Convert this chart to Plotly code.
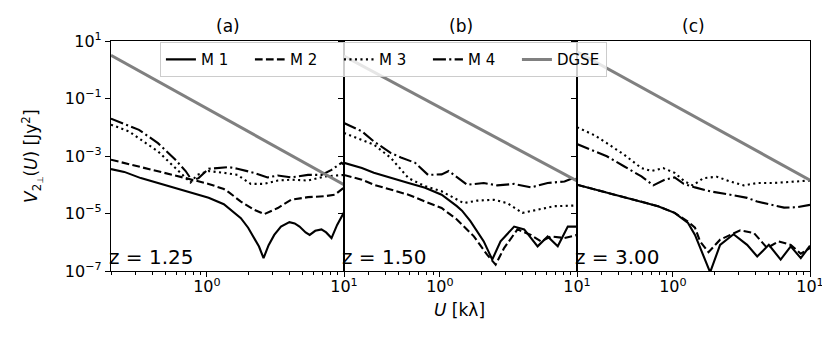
import plotly.graph_objects as go
from plotly.subplots import make_subplots

# panel (a), z = 1.25
A_M1_U = [0.2, 0.25, 0.33, 0.45, 0.59, 0.79, 1.03, 1.33, 1.58, 1.77, 2.0, 2.21, 2.4, 2.59, 2.82, 3.1, 3.47,
          4.0, 4.37, 4.74, 5.25, 5.62, 6.17, 6.85, 7.41, 8.11, 8.91, 10]
A_M1_V = [3.5e-4, 2.8e-4, 1.7e-4, 1.1e-4, 7.8e-5, 5.2e-5, 3.5e-5, 2.1e-5, 1.1e-5, 6.9e-6, 3.2e-6, 1.4e-6,
          7.1e-7, 2.8e-7, 7.9e-7, 1.8e-6, 3.5e-6, 5.0e-6, 4.5e-6, 3.5e-6, 2.2e-6, 1.8e-6, 2.5e-6, 2.8e-6,
          2.2e-6, 1.4e-6, 4.0e-6, 1.1e-5]
A_M2_U = [0.2, 0.33, 0.59, 0.78, 1.03, 1.33, 1.45, 1.77, 2.21, 2.62, 3.29, 4.12, 5.46, 7.24, 8.57, 9.3, 10]
A_M2_V = [7.4e-4, 4.1e-4, 2.2e-4, 1.5e-4, 1.07e-4, 7.1e-5, 5.4e-5, 2.6e-5, 1.35e-5, 9.5e-6, 1.55e-5, 3.0e-5,
          3.7e-5, 4.0e-5, 4.5e-5, 6.0e-5, 8.0e-5]
A_M3_U = [0.2, 0.27, 0.33, 0.44, 0.59, 0.76, 0.85, 1.03, 1.33, 1.67, 2.09, 2.62, 3.29, 4.12, 5.46, 7.24, 10]
A_M3_V = [1.23e-2, 7.2e-3, 3.7e-3, 1.45e-3, 3.8e-4, 1.2e-4, 2.2e-4, 3.0e-4, 2.6e-4, 2.2e-4, 1.07e-4, 1.07e-4,
          1.4e-4, 1.5e-4, 1.4e-4, 1.95e-4, 2.2e-4]
A_M4_U = [0.2, 0.32, 0.44, 0.59, 0.70, 0.78, 0.87, 1.03, 1.45, 1.67, 2.21, 2.77, 3.29, 4.12, 5.46, 6.85, 8.11,
          9.6, 10]
A_M4_V = [2.0e-2, 8.1e-3, 2.8e-3, 7.4e-4, 3.0e-4, 1.4e-4, 1.7e-4, 3.6e-4, 4.1e-4, 3.6e-4, 2.6e-4, 1.8e-4,
          2.1e-4, 1.8e-4, 2.2e-4, 2.2e-4, 3.3e-4, 5.8e-4, 5.0e-4]

# panel (b), z = 1.50
B_M1_U = [0.2, 0.27, 0.33, 0.44, 0.59, 0.78, 1.03, 1.33, 1.45, 1.67, 2.09, 2.41, 2.77, 3.48, 4.12, 5.16, 6.11,
          7.24, 8.57, 10]
B_M1_V = [5.8e-4, 3.8e-4, 2.6e-4, 1.7e-4, 1.15e-4, 7.8e-5, 4.5e-5, 1.8e-5, 1.26e-5, 5.4e-6, 1.07e-6, 2.5e-7,
          1.07e-6, 3.5e-6, 2.8e-6, 7.2e-7, 1.6e-6, 7.2e-7, 3.5e-6, 3.5e-6]
B_M2_U = [0.2, 0.27, 0.33, 0.44, 0.59, 0.78, 1.03, 1.33, 1.77, 2.21, 2.55, 2.94, 3.68, 4.61, 5.46, 6.47, 8.11, 10]
B_M2_V = [2.2e-4, 1.5e-4, 1.0e-4, 6.8e-5, 4.5e-5, 2.6e-5, 1.55e-5, 6.2e-6, 1.6e-6, 3.7e-7, 1.66e-7, 6.3e-7,
          2.8e-6, 1.8e-6, 1.07e-6, 1.6e-6, 1.4e-6, 1.8e-6]
B_M3_U = [0.2, 0.27, 0.33, 0.44, 0.59, 0.78, 1.03, 1.49, 1.87, 2.48, 3.1, 4.0, 5.16, 6.85, 10]
B_M3_V = [6.3e-3, 3.7e-3, 2.5e-3, 8.5e-4, 1.7e-4, 8.9e-5, 5.9e-5, 2.3e-5, 2.8e-5, 3.0e-5, 2.3e-5, 1.05e-5,
          1.35e-5, 1.8e-5, 1.9e-5]
B_M4_U = [0.2, 0.27, 0.33, 0.44, 0.52, 0.66, 0.82, 1.03, 1.16, 1.45, 1.58, 2.09, 2.62, 3.48, 4.61, 6.11, 8.11,
          9.6, 10]
B_M4_V = [1.4e-2, 7.2e-3, 3.2e-3, 1.26e-3, 8.9e-4, 5.8e-4, 2.2e-4, 2.3e-4, 3.0e-4, 1.4e-4, 1.0e-4, 1.15e-4,
          9.5e-5, 1.07e-4, 8.1e-5, 1.15e-4, 1.3e-4, 1.8e-4, 1.6e-4]

# panel (c), z = 3.00
C_M1_U = [0.2, 0.34, 0.59, 0.78, 1.03, 1.29, 1.45, 1.58, 1.72, 1.87, 2.21, 2.77, 3.48, 4.12, 5.01, 6.11, 7.24,
          8.57, 10]
C_M1_V = [1.0e-4, 5.1e-5, 2.6e-5, 1.8e-5, 1.05e-5, 4.7e-6, 1.8e-6, 6.5e-7, 2.5e-7, 9.0e-8, 8.1e-7, 1.9e-6,
          8.1e-7, 3.2e-7, 8.1e-7, 2.5e-7, 7.2e-7, 2.8e-7, 7.6e-7]
C_M2_U = [0.2, 0.34, 0.59, 0.78, 1.03, 1.29, 1.45, 1.58, 1.82, 2.21, 3.1, 3.9, 4.87, 5.9, 7.24, 8.57, 10]
C_M2_V = [1.0e-4, 5.1e-5, 2.6e-5, 1.8e-5, 1.05e-5, 5.2e-6, 3.2e-6, 1.07e-6, 4.5e-7, 1.23e-6, 2.6e-6, 2.1e-6,
          6.3e-7, 1.07e-6, 8.1e-7, 4.0e-7, 6.3e-7]
C_M3_U = [0.2, 0.27, 0.33, 0.44, 0.59, 0.70, 0.85, 1.03, 1.22, 1.40, 1.67, 2.09, 2.62, 3.29, 4.12, 5.46, 7.24, 10]
C_M3_V = [1.0e-2, 5.2e-3, 2.8e-3, 1.12e-3, 3.8e-4, 3.0e-4, 3.8e-4, 2.6e-4, 1.3e-4, 9.5e-5, 1.7e-4, 1.9e-4,
          1.3e-4, 9.5e-5, 1.15e-4, 1.15e-4, 1.26e-4, 1.4e-4]
C_M4_U = [0.2, 0.27, 0.33, 0.44, 0.59, 0.72, 0.87, 1.03, 1.2, 1.45, 1.87, 2.62, 3.48, 4.12, 5.16, 6.47, 8.11, 10]
C_M4_V = [2.6e-3, 1.5e-3, 9.8e-4, 4.4e-4, 1.95e-4, 9.5e-5, 1.5e-4, 1.8e-4, 1.07e-4, 8.1e-5, 5.9e-5, 4.5e-5,
          3.5e-5, 2.6e-5, 2.1e-5, 1.6e-5, 1.66e-5, 2.0e-5]

# DGSE foreground, straight line in log-log
DGSE_U = [0.2, 10]
DGSE_A = [3.2, 1.0e-4]
DGSE_B = [3.0, 1.35e-4]
DGSE_C = [4.2, 1.45e-4]

PANEL_TITLES = ["(a)", "(b)", "(c)"]
REDSHIFTS = ["z = 1.25", "z = 1.50", "z = 3.00"]
NAMES = ["M 1", "M 2", "M 3", "M 4", "DGSE"]

Y_TICKS = [1e1, 1e-1, 1e-3, 1e-5, 1e-7]
Y_TICK_TEXT = ["10<sup>1</sup>", "10<sup>\u22121</sup>", "10<sup>\u22123</sup>", "10<sup>\u22125</sup>",
               "10<sup>\u22127</sup>"]
X_TICKS = [1, 10]
X_TICK_TEXT = ["10<sup>0</sup>", "10<sup>1</sup>"]
X_MINOR = [0.2, 0.3, 0.4, 0.5, 0.6, 0.7, 0.8, 0.9, 2, 3, 4, 5, 6, 7, 8, 9]

paneles = [
    [(A_M1_U, A_M1_V), (A_M2_U, A_M2_V), (A_M3_U, A_M3_V), (A_M4_U, A_M4_V), (DGSE_U, DGSE_A)],
    [(B_M1_U, B_M1_V), (B_M2_U, B_M2_V), (B_M3_U, B_M3_V), (B_M4_U, B_M4_V), (DGSE_U, DGSE_B)],
    [(C_M1_U, C_M1_V), (C_M2_U, C_M2_V), (C_M3_U, C_M3_V), (C_M4_U, C_M4_V), (DGSE_U, DGSE_C)],
]

# estilos de linea parecidos a los de matplotlib
estilos = [
    dict(color="black", width=2.1, dash="solid"),
    dict(color="black", width=2.1, dash="7.7px,3.3px"),
    dict(color="black", width=2.1, dash="2.1px,3.4px"),
    dict(color="black", width=2.1, dash="13px,3.3px,2.1px,3.3px"),
    dict(color="#808080", width=3, dash="solid"),
]

fig = make_subplots(rows=1, cols=3, horizontal_spacing=0, shared_yaxes=False)

for col, curvas in enumerate(paneles, start=1):
    for k, (u, v) in enumerate(curvas):
        fig.add_trace(
            go.Scatter(
                x=u,
                y=v,
                mode="lines",
                name=NAMES[k],
                line=estilos[k],
                showlegend=(col == 1),
                legendrank=k,
            ),
            row=1,
            col=col,
        )

    fig.update_xaxes(
        type="log",
        range=[-0.699, 1],
        tickvals=X_TICKS,
        ticktext=X_TICK_TEXT,
        ticks="outside",
        ticklen=5,
        tickcolor="black",
        ticklabelstandoff=-4,
        minor=dict(tickvals=X_MINOR, ticks="outside", ticklen=3, tickcolor="black"),
        showgrid=False,
        zeroline=False,
        showline=True,
        mirror=True,
        linecolor="black",
        linewidth=1.2,
        row=1,
        col=col,
    )
    fig.update_yaxes(
        type="log",
        range=[-7, 1],
        tickvals=Y_TICKS,
        ticktext=Y_TICK_TEXT,
        showticklabels=(col == 1),
        ticks="outside",
        ticklen=5,
        tickcolor="black",
        showgrid=False,
        zeroline=False,
        showline=True,
        mirror=True,
        linecolor="black",
        linewidth=1.2,
        row=1,
        col=col,
    )

    xref = "x domain" if col == 1 else f"x{col} domain"
    yref = "y domain" if col == 1 else f"y{col} domain"

    # titulo de cada panel
    fig.add_annotation(
        x=0.5, y=1.0, xref=xref, yref=yref, xanchor="center", yanchor="bottom", yshift=3,
        text=PANEL_TITLES[col - 1], showarrow=False, font_size=17,
    )
    # etiqueta del corrimiento al rojo
    fig.add_annotation(
        x=0.0, y=0.0, xref=xref, yref=yref, xanchor="left", yanchor="bottom", xshift=-4, yshift=0,
        text=REDSHIFTS[col - 1], showarrow=False, font_size=20,
    )

fig.add_annotation(
    x=-0.113, y=0.5, xref="paper", yref="paper", xanchor="center", yanchor="middle",
    textangle=-90, showarrow=False, font_size=17,
    text="<i>V</i><sub>2<sub>\u22a5</sub></sub>(<i>U</i>) [Jy<sup>2</sup>]",
)
fig.add_annotation(
    x=0.499, y=-0.17, xref="paper", yref="paper", xanchor="center", yanchor="middle",
    showarrow=False, font_size=17, text="<i>U</i> [k\u03bb]",
)

fig.update_layout(
    width=830,
    height=338,
    margin=dict(l=103, r=28, t=33, b=75),
    font=dict(family="DejaVu Sans", size=16, color="black"),
    plot_bgcolor="white",
    paper_bgcolor="white",
    legend=dict(
        orientation="h",
        x=0.07,
        y=0.995,
        xanchor="left",
        yanchor="top",
        font_size=15,
        bgcolor="rgba(255,255,255,0.8)",
        bordercolor="#cccccc",
        borderwidth=1,
        entrywidth=44,
        traceorder="normal",
    ),
)

fig.write_html("out.html")
